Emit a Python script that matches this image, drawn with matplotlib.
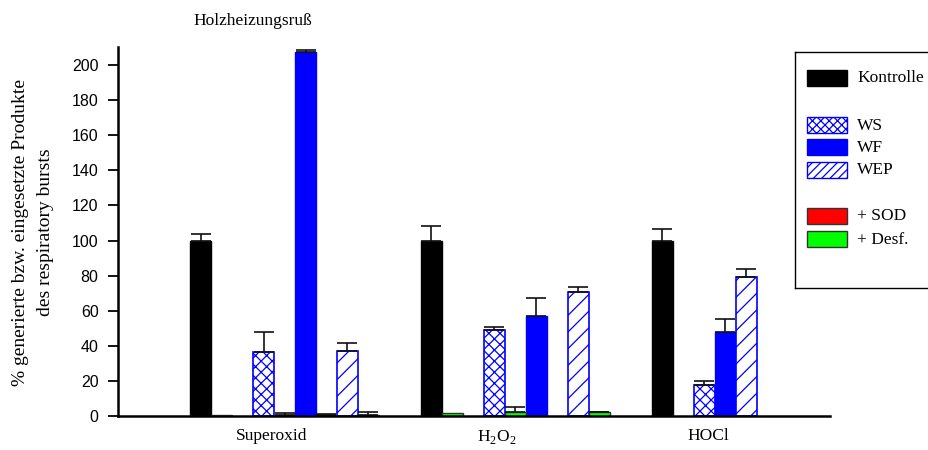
import matplotlib
matplotlib.use("Agg")
import matplotlib.pyplot as plt
from matplotlib.patches import Rectangle
import numpy as np

plt.rcParams['font.family'] = ['Liberation Serif', 'DejaVu Serif']
plt.rcParams['mathtext.fontset'] = 'custom'
plt.rcParams['mathtext.rm'] = 'Liberation Serif'
plt.rcParams['hatch.linewidth'] = 0.9

# Daten (% generierte bzw. eingesetzte Produkte)
gruppen = ['Superoxid', 'H$_2$O$_2$', 'HOCl']
kontrolle = [100, 100, 100]
kontrolle_err = [3.5, 8.5, 6.5]
ws = [36.5, 49, 17.5]
ws_err = [11.5, 2, 2.5]
wf = [207.5, 57, 48]
wf_err = [1, 10, 7.5]
wep = [37, 70.5, 79.5]
wep_err = [4.5, 3, 4]
# Zusaetze: SOD nur bei Superoxid, Desf. nur bei H2O2 (K, WS, WF, WEP)
sod = [0.3, 0.6, 0.6, 0.6]
sod_err = [0, 1.2, 0.8, 1.8]
desf = [1.5, 2.5, np.nan, 2]
desf_err = [0, 2.5, 0, 0.5]

fig = plt.figure(figsize=(9.29, 4.5), dpi=100)
ax = fig.add_axes([118/929, 34/450, 712/929, 369/450])

breite = 1.0
abstand = 11
start = np.arange(len(gruppen)) * abstand
# Positionen innerhalb einer Gruppe
pos_k = start
pos_ws = np.array([start[0] + 3, start[1] + 3, start[2] + 2])
pos_wf = np.array([start[0] + 5, start[1] + 5, start[2] + 3])
pos_wep = np.array([start[0] + 7, start[1] + 7, start[2] + 4])
pos_zusatz_sod = start[0] + np.array([1, 4, 6, 8])
pos_zusatz_desf = start[1] + np.array([1, 4, 6, 8])

fehler = dict(ecolor='#111111', elinewidth=1.2, capsize=7.3, capthick=1.2)


def balken(x, h, err, **kw):
    h = np.asarray(h, dtype=float)
    err = np.asarray(err, dtype=float)
    ax.bar(x, h, width=breite, **kw)
    ok = ~np.isnan(h) & (err > 0)
    ax.errorbar(np.asarray(x)[ok], h[ok], yerr=[np.zeros(ok.sum()), err[ok]],
                fmt='none', zorder=1, **fehler)


balken(pos_k, kontrolle, kontrolle_err, color='black', edgecolor='black')
balken(pos_ws, ws, ws_err, color='white', edgecolor='#0000ff', hatch='xxx', linewidth=1.2)
balken(pos_wf, wf, wf_err, color='#0000ff', edgecolor='#0000ff')
balken(pos_wep, wep, wep_err, color='white', edgecolor='#0000ff', hatch='//', linewidth=1.2)
balken(pos_zusatz_sod, sod, sod_err, color='#ff0000', edgecolor='#555555', linewidth=1)
balken(pos_zusatz_desf, desf, desf_err, color='#00ff00', edgecolor='#333333', linewidth=1)

ax.set_xlim(-3.93, 29.98)
ax.set_ylim(0, 210.3)
ax.set_yticks(np.arange(0, 201, 20))
ax.tick_params(axis='y', length=7, width=1.3, labelsize=11.5, pad=7)
for lab in ax.get_yticklabels():
    lab.set_fontfamily('Liberation Sans')
ax.set_xticks([3.4, 14.1, 24.2])
ax.set_xticklabels(gruppen, fontsize=12.5)
ax.tick_params(axis='x', length=0, pad=9)
for s in ['top', 'right']:
    ax.spines[s].set_visible(False)
ax.spines['left'].set_linewidth(1.8)
ax.spines['bottom'].set_linewidth(1.8)

fig.text(253/929, 1 - 21/450, 'Holzheizungsruß', ha='center', va='center', fontsize=12.5)
fig.text(33/929, 1 - 232/450,
         '% generierte bzw. eingesetzte Produkte\ndes respiratory bursts',
         rotation=90, ha='center', va='center', multialignment='center',
         fontsize=14, linespacing=1.6)

# Legende
lg = fig.add_axes([795/929, 162/450, 140/929, 236/450])
lg.set_xlim(795, 935)
lg.set_ylim(288, 52)
lg.set_xticks([])
lg.set_yticks([])
for s in lg.spines.values():
    s.set_linewidth(1.0)
eintraege = [
    ('Kontrolle', 70, dict(facecolor='black', edgecolor='black')),
    ('WS', 117, dict(facecolor='white', edgecolor='#0000ff', hatch='xxxx')),
    ('WF', 139, dict(facecolor='#0000ff', edgecolor='#0000ff')),
    ('WEP', 162, dict(facecolor='white', edgecolor='#0000ff', hatch='////')),
    ('+ SOD', 208, dict(facecolor='#ff0000', edgecolor='#333333')),
    ('+ Desf.', 231, dict(facecolor='#00ff00', edgecolor='#333333')),
]
for name, y0, stil in eintraege:
    lg.add_patch(Rectangle((807, y0), 40, 16, linewidth=1.0, **stil))
    lg.text(857, y0 + 8.5, name, ha='left', va='center', fontsize=12.5)

fig.savefig('out.png', dpi=100)
